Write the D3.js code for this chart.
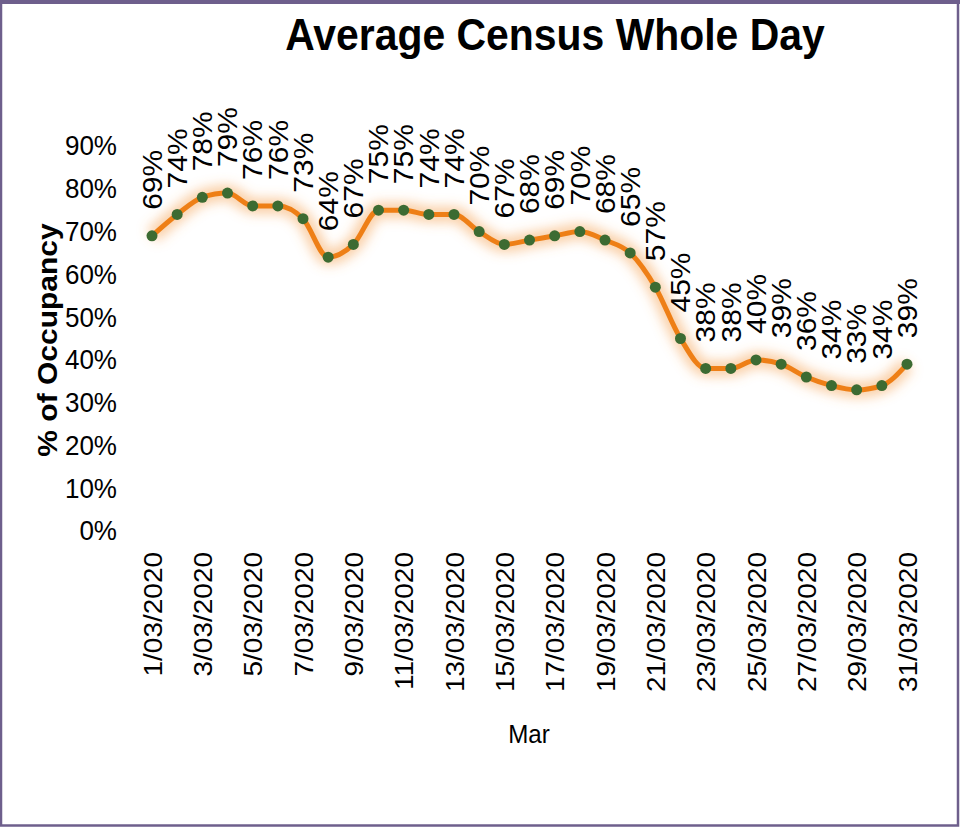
<!DOCTYPE html>
<html>
<head>
<meta charset="utf-8">
<script src="https://cdn.jsdelivr.net/npm/d3@7"></script>
<style>
  html, body { margin: 0; padding: 0; background: #fff; }
  svg { display: block; font-family: "Liberation Sans", Arial, sans-serif; }
</style>
</head>
<body>
<svg id="chart"></svg>
<script>
// Chart size and styling
const WIDTH = 960;
const HEIGHT = 827;
const LINE_COLOR = "#ee7f16";
const MARKER_COLOR = "#3c6b32";
const FRAME_COLOR = "#6e5f8c";
const SQUISH = 0.93; // text in the reference is slightly condensed horizontally

// Data
const days = d3.range(1, 32).map(d => `${d}/03/2020`);
const occupancy = [69, 74, 78, 79, 76, 76, 73, 64, 67, 75, 75, 74, 74, 70, 67, 68, 69, 70, 68, 65, 57, 45, 38, 38, 40, 39, 36, 34, 33, 34, 39];
const yTicks = [0, 10, 20, 30, 40, 50, 60, 70, 80, 90];

const svg = d3.select("#chart")
    .attr("width", WIDTH)
    .attr("height", HEIGHT);

// Glow behind the line
const defs = svg.append("defs");
const glow = defs.append("filter")
    .attr("id", "glow")
    .attr("x", "-10%").attr("y", "-30%")
    .attr("width", "120%").attr("height", "160%");
glow.append("feGaussianBlur").attr("stdDeviation", 6);

// Frame
svg.append("rect")
    .attr("x", 1).attr("y", 1.5)
    .attr("width", WIDTH - 3).attr("height", HEIGHT - 3)
    .attr("fill", "none")
    .attr("stroke", FRAME_COLOR)
    .attr("stroke-width", 2.5);
svg.append("line")
    .attr("x1", 0).attr("x2", WIDTH)
    .attr("y1", 2).attr("y2", 2)
    .attr("stroke", FRAME_COLOR)
    .attr("stroke-width", 4);

// Scales
const x = d3.scalePoint()
    .domain(days)
    .range([152, 907]);

const y = d3.scaleLinear()
    .domain([0, 90])
    .range([531, 146]);

// Title
svg.append("text")
    .attr("transform", `translate(555,50) scale(${SQUISH},1)`)
    .attr("text-anchor", "middle")
    .attr("font-size", 44)
    .attr("font-weight", "bold")
    .text("Average Census Whole Day");

// Y axis labels (no axis line, no ticks)
const yAxis = d3.axisLeft(y)
    .tickValues(yTicks)
    .tickFormat(d => d + "%")
    .tickSize(0)
    .tickPadding(0);

svg.append("g")
    .attr("transform", "translate(117,0)")
    .call(yAxis)
    .call(g => g.select(".domain").remove())
    .call(g => g.selectAll("text")
        .attr("x", 0)
        .attr("font-size", 28)
        .attr("font-family", "Liberation Sans, Arial, sans-serif")
        .attr("fill", "#000")
        .attr("transform", `scale(${SQUISH},1)`));

// Y axis title
svg.append("text")
    .attr("transform", `translate(57,340) scale(${SQUISH},1) rotate(-90)`)
    .attr("text-anchor", "middle")
    .attr("font-size", 30)
    .attr("font-weight", "bold")
    .text("% of Occupancy");

// X axis labels: every other day, rotated
const xAxis = d3.axisBottom(x)
    .tickValues(days.filter((d, i) => i % 2 === 0))
    .tickSize(0)
    .tickPadding(0);

svg.append("g")
    .attr("transform", "translate(0,552)")
    .call(xAxis)
    .call(g => g.select(".domain").remove())
    .call(g => g.selectAll("text")
        .attr("y", 0)
        .attr("font-size", 28)
        .attr("font-family", "Liberation Sans, Arial, sans-serif")
        .attr("fill", "#000")
        .attr("text-anchor", "end")
        .attr("dy", "0.35em")
        .attr("transform", `scale(${SQUISH},1) rotate(-90)`));

// X axis title
svg.append("text")
    .attr("transform", `translate(529,743) scale(${SQUISH},1)`)
    .attr("text-anchor", "middle")
    .attr("font-size", 26)
    .text("Mar");

// Line with glow
const line = d3.line()
    .x((d, i) => x(days[i]))
    .y(d => y(d))
    .curve(d3.curveMonotoneX);

svg.append("path")
    .datum(occupancy)
    .attr("d", line)
    .attr("fill", "none")
    .attr("stroke", "#f6a04d")
    .attr("stroke-width", 16)
    .attr("stroke-opacity", 0.5)
    .attr("stroke-linejoin", "round")
    .attr("filter", "url(#glow)");

svg.append("path")
    .datum(occupancy)
    .attr("d", line)
    .attr("fill", "none")
    .attr("stroke", LINE_COLOR)
    .attr("stroke-width", 5)
    .attr("stroke-linejoin", "round");

// Markers
svg.append("g")
    .selectAll("circle")
    .data(occupancy)
    .join("circle")
    .attr("cx", (d, i) => x(days[i]))
    .attr("cy", d => y(d))
    .attr("r", 5.5)
    .attr("fill", MARKER_COLOR);

// Data labels, rotated above each point
svg.append("g")
    .selectAll("text")
    .data(occupancy)
    .join("text")
    .attr("transform", (d, i) => `translate(${x(days[i])},${y(d) - 26}) scale(${SQUISH},1) rotate(-90)`)
    .attr("dy", "0.35em")
    .attr("font-size", 30)
    .attr("fill", "#000")
    .text(d => d + "%");
</script>
</body>
</html>
